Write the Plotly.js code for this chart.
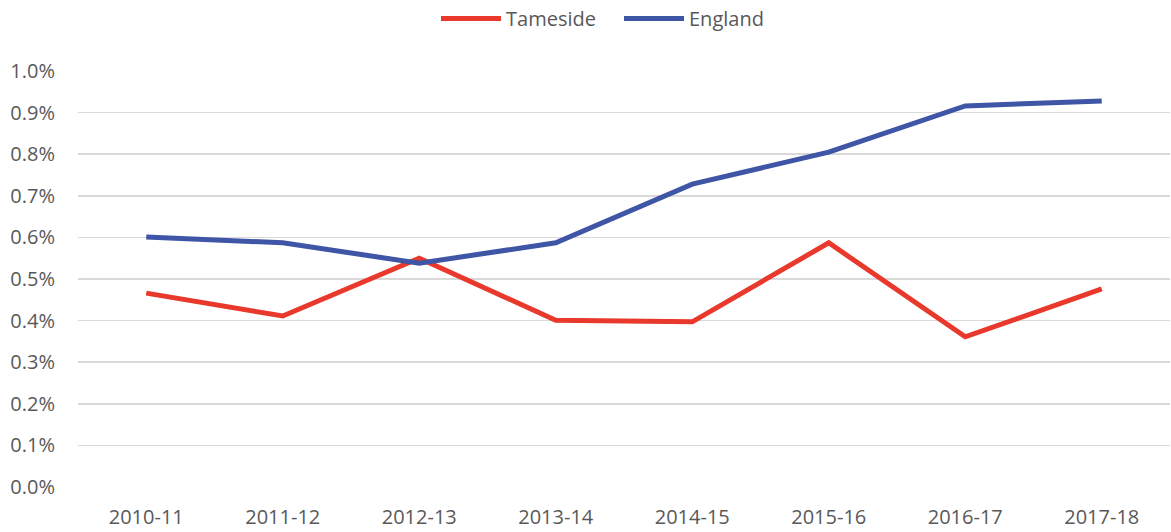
<!DOCTYPE html>
<html><head><meta charset="utf-8">
<script src="https://cdn.plot.ly/plotly-3.0.1.min.js"></script>
<style>html,body{margin:0;padding:0;background:#fff}#c{width:1171px;height:532px}</style>
</head><body><div id="c"></div>
<script>
const categories = ["2010-11","2011-12","2012-13","2013-14","2014-15","2015-16","2016-17","2017-18"];
const tameside = [0.00466,0.00411,0.00550,0.00401,0.00397,0.00587,0.00361,0.00476];
const england = [0.00601,0.00587,0.00538,0.00587,0.00728,0.00805,0.00916,0.00928];
const yTicks = [0,0.001,0.002,0.003,0.004,0.005,0.006,0.007,0.008,0.009,0.010];

const font = {family:"Open Sans, Noto Sans, sans-serif", size:20, color:"#595959"};
Plotly.newPlot("c",[
 {x:categories,y:tameside,name:"Tameside",type:"scatter",mode:"lines",line:{color:"#e8392c",width:5}},
 {x:categories,y:england,name:"England",type:"scatter",mode:"lines",line:{color:"#3f55a5",width:5}}
],{
 width:1171,height:532,
 margin:{l:78,r:1,t:71,b:45},
 paper_bgcolor:"#fff",plot_bgcolor:"#fff",
 font:font,
 showlegend:true,
 legend:{orientation:"h",xref:"container",yref:"container",x:436/1171,xanchor:"left",y:0.965,yanchor:"middle",font:font,itemwidth:60,entrywidth:108},
 xaxis:{type:"category",range:[-0.5,7.5],showgrid:false,zeroline:false,showline:false,ticks:"",tickfont:font,ticklabelstandoff:16},
 yaxis:{range:[0,0.0100],tickvals:yTicks,tickformat:".1%",showgrid:true,gridcolor:"#d9d9d9",gridwidth:1.5,zeroline:false,showline:false,ticks:"",tickfont:font,ticklabelstandoff:22}
},{displayModeBar:false,staticPlot:true});
</script></body></html>
